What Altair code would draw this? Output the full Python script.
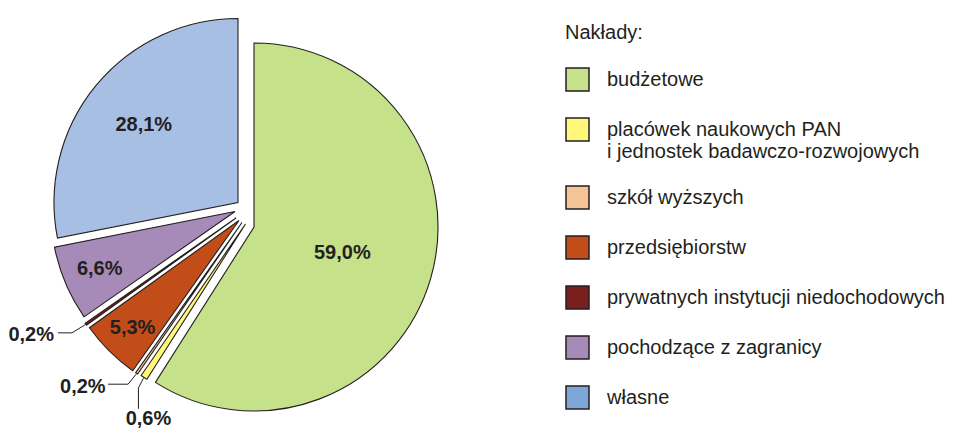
import math
import altair as alt
import pandas as pd

# ---------------- data ----------------
CATEGORIES = [
    "budżetowe",
    "placówek naukowych PAN\ni jednostek badawczo-rozwojowych",
    "szkół wyższych",
    "przedsiębiorstw",
    "prywatnych instytucji niedochodowych",
    "pochodzące z zagranicy",
    "własne",
]
SHARES = [59.0, 0.6, 0.2, 5.3, 0.2, 6.6, 28.1]

# ---------------- style ----------------
COLORS = ["#c5e189", "#fff87a", "#f5c596", "#c24d18", "#7a1f1d", "#a68bb8", "#a7bfe3"]
LEGEND_COLORS = ["#c5e189", "#fff87a", "#f5c596", "#c24d18", "#7a1f1d", "#a68bb8", "#7fa6d8"]
INK = "#231f20"
FONT = "Liberation Sans"
W, H = 952, 421
CENTER = (236, 206)          # pie centre before explosion (px)
RADIUS = 184
EXPLODE = [(10, 13), (1.5, 10), (-2, 8.5), (-5, 6.5), (-8, 4), (-9, -2.5), (-6, -11.5)]
INSIDE_LABEL_R = {0: 92, 3: 151, 5: 147, 6: 122}
LEADERS = {
    4: dict(elbow=(-13, 8), tail=(-14, 0), text=(-4, 2), align="right"),
    2: dict(elbow=(-8, 10), tail=(-20, 0), text=(-2.5, 3), align="right"),
    1: dict(elbow=(-5, 9.5), tail=(0, 21), text=(10, 10), align="center"),
}

total = sum(SHARES)


def pct(v):
    return f"{v:.1f}".replace(".", ",") + "%"


rows, labels, leader_pts = [], [], []
cum = 0.0
for i, (cat, v) in enumerate(zip(CATEGORIES, SHARES)):
    mid = math.radians((cum + v / 2) / total * 360)
    cum += v
    cx = CENTER[0] + EXPLODE[i][0]
    cy = CENTER[1] + EXPLODE[i][1]
    rows.append(dict(cat=cat, share=v, idx=i, cx=cx, cy=cy))
    if i in INSIDE_LABEL_R:
        r = INSIDE_LABEL_R[i]
        labels.append(dict(txt=pct(v), lx=cx + r * math.sin(mid), ly=cy - r * math.cos(mid), al="center"))
    if i in LEADERS:
        L = LEADERS[i]
        ox = cx + (RADIUS + 1) * math.sin(mid)
        oy = cy - (RADIUS + 1) * math.cos(mid)
        ex, ey = ox + L["elbow"][0], oy + L["elbow"][1]
        tx, ty = ex + L["tail"][0], ey + L["tail"][1]
        for s, (px, py) in enumerate([(ox, oy), (ex, ey), (tx, ty)]):
            leader_pts.append(dict(idx=i, step=s, px=px, py=py))
        labels.append(dict(txt=pct(v), lx=tx + L["text"][0], ly=ty + L["text"][1], al=L["align"]))

df = pd.DataFrame(rows)
lab = pd.DataFrame(labels)
lead = pd.DataFrame(leader_pts)

legend = alt.Legend(
    orient="none", legendX=557, legendY=15,
    title="Nakłady:", titleFont=FONT, titleFontSize=20, titleFontWeight="normal",
    titleColor=INK, titlePadding=24, titleLimit=400,
    labelFont=FONT, labelFontSize=20, labelColor=INK, labelLimit=600, labelOffset=17,
    labelExpr="split(datum.label, '\\n')",
    symbolType="square", symbolSize=529, symbolStrokeColor=INK, symbolStrokeWidth=1.5,
    symbolOpacity=1, rowPadding=21,
)

XP = alt.X("cx:Q", scale=None, axis=None, stack=False)
YP = alt.Y("cy:Q", scale=None, axis=None, stack=False)

arcs = alt.Chart(df).transform_window(
    cum="sum(share)", sort=[alt.SortField("idx", order="ascending")]
).transform_calculate(
    start="datum.cum - datum.share"
).mark_arc(outerRadius=RADIUS, stroke=INK, strokeWidth=1.1, strokeJoin="miter").encode(
    theta=alt.Theta("start:Q", scale=alt.Scale(domain=[0, total], range=[0, 2 * math.pi])),
    theta2="cum:Q",
    color=alt.Color("cat:N", sort=CATEGORIES,
                    scale=alt.Scale(domain=CATEGORIES, range=COLORS), legend=None),
    x=XP,
    y=YP,
)

# invisible layer that carries the legend (legend swatch colours as in the original)
legend_layer = alt.Chart(df).mark_square(opacity=0, size=1).encode(
    color=alt.Color("cat:N", sort=CATEGORIES,
                    scale=alt.Scale(domain=CATEGORIES, range=LEGEND_COLORS), legend=legend),
    x=XP,
    y=YP,
)

lines = alt.Chart(lead).mark_line(color=INK, strokeWidth=1).encode(
    x=alt.X("px:Q", scale=None, axis=None, stack=False),
    y=alt.Y("py:Q", scale=None, axis=None, stack=False),
    detail="idx:N",
    order="step:Q",
)

txt_center = alt.Chart(lab).transform_filter("datum.al == 'center'").mark_text(
    font=FONT, fontSize=20, fontWeight="bold", color=INK, align="center", baseline="middle"
).encode(
    x=alt.X("lx:Q", scale=None, axis=None, stack=False),
    y=alt.Y("ly:Q", scale=None, axis=None, stack=False),
    text="txt:N",
)
txt_right = alt.Chart(lab).transform_filter("datum.al == 'right'").mark_text(
    font=FONT, fontSize=20, fontWeight="bold", color=INK, align="right", baseline="middle"
).encode(
    x=alt.X("lx:Q", scale=None, axis=None, stack=False),
    y=alt.Y("ly:Q", scale=None, axis=None, stack=False),
    text="txt:N",
)

chart = alt.layer(arcs, legend_layer, lines, txt_center, txt_right).resolve_scale(
    color="independent"
).properties(
    width=W, height=H, padding=0,
    autosize=alt.AutoSizeParams(type="none"),
).configure_view(strokeWidth=0)

chart.save("out.html", embed_options={"renderer": "svg", "actions": False})
